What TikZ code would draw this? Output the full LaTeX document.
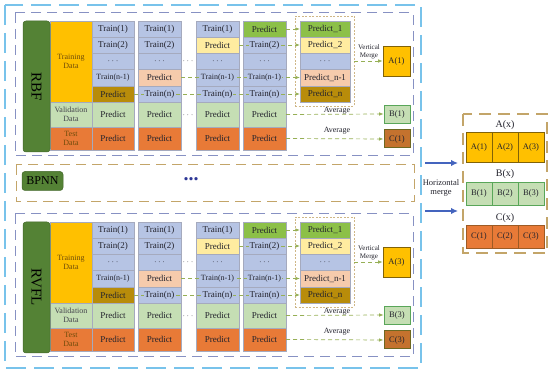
\documentclass[tikz,border=0pt]{standalone}
\usepackage{fontspec}
\setmainfont{Liberation Serif}
\usetikzlibrary{arrows.meta}
\pgfdeclarelayer{front}
\pgfsetlayers{main,front}

\definecolor{mgreen}{RGB}{84,130,53}
\definecolor{dyellow}{RGB}{255,192,0}
\definecolor{tblue}{RGB}{182,196,228}
\definecolor{olivep}{RGB}{184,140,10}
\definecolor{vgreen}{RGB}{197,222,180}
\definecolor{torange}{RGB}{232,122,55}
\definecolor{peach}{RGB}{246,203,172}
\definecolor{lyellow}{RGB}{255,236,160}
\definecolor{bgreen}{RGB}{140,192,72}
\definecolor{cbrown}{RGB}{196,114,46}
\definecolor{cellline}{RGB}{165,170,190}
\definecolor{panelblue}{RGB}{135,145,195}
\definecolor{outerblue}{RGB}{120,195,235}
\definecolor{tanline}{RGB}{195,165,105}
\definecolor{arrgreen}{RGB}{150,175,85}
\definecolor{arrblue}{RGB}{68,100,190}
\definecolor{dotblue}{RGB}{45,55,150}
\definecolor{txtdark}{RGB}{35,35,45}
\definecolor{txtbrown}{RGB}{110,75,10}

\tikzset{
 cellbox/.style={draw=cellline, line width=.5pt, inner sep=0pt, outer sep=0pt},
 celltxt/.style={inner sep=.8pt, text=txtdark, font=\fontsize{9}{10}\selectfont},
 modelbox/.style={fill=mgreen, draw=mgreen!80!black, rounded corners=3pt, inner sep=0pt, line width=.5pt, text=black},
 databox/.style={inner sep=0pt, outer sep=0pt, align=center, font=\fontsize{8}{9}\selectfont, draw=cellline, line width=.4pt},
 flow/.style={draw=arrgreen, line width=.7pt, dash pattern=on 4pt off 3pt, -{Latex[length=4.5pt,width=3.5pt]}},
 panel/.style={draw=panelblue, line width=1pt, dash pattern=on 10pt off 6pt},
 outerbox/.style={draw=outerblue, line width=1.5pt, dash pattern=on 20pt off 8pt},
 bpbox/.style={draw=tanline, line width=1pt, dash pattern=on 10pt off 6pt},
 rbox/.style={draw=tanline, line width=1.2pt, dash pattern=on 12pt off 7pt},
 mergebox/.style={draw=tanline!80, line width=.6pt, dash pattern=on 2pt off 1.5pt, inner sep=0pt},
 lbl/.style={text=txtdark, align=center, inner sep=0pt},
 dotsn/.style={text=txtdark!80, font=\fontsize{9}{9}\selectfont, inner sep=0pt},
 resbox/.style={inner sep=0pt, text=txtdark, font=\fontsize{8.5}{9}\selectfont, line width=.6pt},
 bigarrow/.style={draw=arrblue, line width=1.6pt, -{Latex[length=7pt,width=6.5pt]}},
}

\newcommand\cellnode[7]{%
 \node[cellbox, fill=#6, minimum width={(#4)-(#2)}, minimum height={(#5)-(#3)}] (#1) at ({((#2)+(#4))/2},{((#3)+(#5))/2}) {};
 \begin{pgfonlayer}{front}\node[celltxt, fill=#6] (#1t) at (#1) {#7};\end{pgfonlayer}%
}

\newcommand\drawpanel[3]{%
 \draw[panel] (15,13) rectangle (413,156);
 \node[databox, fill=dyellow, text=txtbrown, minimum width=42, minimum height=81] (#1td) at (71,61.5) {Training\\Data};
 \node[databox, fill=vgreen, text=txtdark!85, minimum width=42, minimum height=25] (#1vd) at (71,114.5) {Validation\\Data};
 \node[databox, fill=torange, text=txtbrown, minimum width=42, minimum height=23] (#1sd) at (71,138.5) {Test\\Data};
 \node[modelbox, rotate=-90, minimum width=131, minimum height=27, font=\fontsize{15}{15}\selectfont] (#1lab) at (36.5,86.5) {#2};
 % column 1
 \cellnode{#1c1r1}{92}{21}{134}{37}{tblue}{Train(1)}
 \cellnode{#1c1r2}{92}{37}{134}{53}{tblue}{Train(2)}
 \cellnode{#1c1r3}{92}{53}{134}{69}{tblue}{$\cdots$}
 \cellnode{#1c1r4}{92}{69}{134}{86}{tblue}{{\fontsize{8}{8}\selectfont Train(n-1)}}
 \cellnode{#1c1r5}{92}{86}{134}{102}{olivep}{Predict}
 \cellnode{#1c1v}{92}{102}{134}{127}{vgreen}{Predict}
 \cellnode{#1c1t}{92}{127}{134}{150}{torange}{Predict}
 % column 2
 \cellnode{#1c2r1}{138}{21}{181}{37}{tblue}{Train(1)}
 \cellnode{#1c2r2}{138}{37}{181}{53}{tblue}{Train(2)}
 \cellnode{#1c2r3}{138}{53}{181}{69}{tblue}{$\cdots$}
 \cellnode{#1c2r4}{138}{69}{181}{86}{peach}{Predict}
 \cellnode{#1c2r5}{138}{86}{181}{102}{tblue}{Train(n)}
 \cellnode{#1c2v}{138}{102}{181}{127}{vgreen}{Predict}
 \cellnode{#1c2t}{138}{127}{181}{150}{torange}{Predict}
 % column 3
 \cellnode{#1c3r1}{196}{21}{239}{37}{tblue}{Train(1)}
 \cellnode{#1c3r2}{196}{37}{239}{53}{lyellow}{Predict}
 \cellnode{#1c3r3}{196}{53}{239}{69}{tblue}{$\cdots$}
 \cellnode{#1c3r4}{196}{69}{239}{86}{tblue}{{\fontsize{8}{8}\selectfont Train(n-1)}}
 \cellnode{#1c3r5}{196}{86}{239}{102}{tblue}{Train(n)}
 \cellnode{#1c3v}{196}{102}{239}{127}{vgreen}{Predict}
 \cellnode{#1c3t}{196}{127}{239}{150}{torange}{Predict}
 % column 4
 \cellnode{#1c4r1}{243}{21}{286}{37}{bgreen}{Predict}
 \cellnode{#1c4r2}{243}{37}{286}{53}{tblue}{Train(2)}
 \cellnode{#1c4r3}{243}{53}{286}{69}{tblue}{$\cdots$}
 \cellnode{#1c4r4}{243}{69}{286}{86}{tblue}{{\fontsize{8}{8}\selectfont Train(n-1)}}
 \cellnode{#1c4r5}{243}{86}{286}{102}{tblue}{Train(n)}
 \cellnode{#1c4v}{243}{102}{286}{127}{vgreen}{Predict}
 \cellnode{#1c4t}{243}{127}{286}{150}{torange}{Predict}
 % dots
 \node[dotsn] (#1d1) at (188,61) {$\cdots$};
 \node[dotsn] (#1d2) at (188,115) {$\cdots$};
 % merge box
 \node[mergebox, minimum width=59, minimum height=90] (#1mb) at (324.5,61) {};
 \cellnode{#1m1}{300}{21}{350}{37}{bgreen}{Predict\_1}
 \cellnode{#1m2}{300}{37}{350}{53}{lyellow}{Predict\_2}
 \cellnode{#1m3}{300}{53}{350}{69}{tblue}{$\cdots$}
 \cellnode{#1m4}{300}{69}{350}{86}{peach}{Predict\_n-1}
 \cellnode{#1m5}{300}{86}{350}{102}{olivep}{Predict\_n}
 % results
 \node[resbox, fill=dyellow, draw=olivep!70!black, minimum width=27, minimum height=30] (#1A) at (396.5,61) {A(#3)};
 \node[resbox, fill=vgreen, draw=gray!70!green, minimum width=26, minimum height=18] (#1B) at (397,114) {B(#3)};
 \node[resbox, fill=cbrown, draw=olive!70!black, line width=1pt, minimum width=26, minimum height=18] (#1C) at (397,139) {C(#3)};
 % labels
 \node[lbl, font=\fontsize{7}{7.5}\selectfont] (#1vm) at (369,52) {Vertical\\Merge};
 \node[lbl, font=\fontsize{8}{8}\selectfont] (#1avg1) at (337,111) {Average};
 \node[lbl, font=\fontsize{8}{8}\selectfont] (#1avg2) at (337,131) {Average};
 % connectors
 \draw[flow] (#1c4r1.east) -- (#1m1.west);
 \draw[flow] (#1c3r2.east) -- (#1m2.west);
 \draw[flow] (#1c2r4.east) -- (#1m4.west);
 \draw[flow] (#1c1r5.east) -- (#1m5.west);
 \draw[flow] (#1mb.east) -- (#1A.west);
 \draw[flow] (#1c4v.east) -- (#1B.west);
 \draw[flow] (#1c4t.east) -- (#1C.west);
}

\begin{document}
\begin{tikzpicture}[x=1pt,y=-1pt]
\useasboundingbox (0,0) rectangle (550,374);
\draw[outerbox] (5,5) rectangle (421,368);

\drawpanel{p1}{RBF}{1}

\draw[bpbox] (16,165) rectangle (414,202);
\node[modelbox, minimum width=41, minimum height=19, font=\fontsize{12}{12}\selectfont] (bpnn) at (42.5,181) {BPNN};
\node[text=dotblue, font=\fontsize{20}{20}\selectfont\bfseries, inner sep=0pt] (bdots) at (191,179) {...};

\begin{scope}[yshift=-201pt]
\drawpanel{p3}{RVFL}{3}
\end{scope}

% right result box
\draw[rbox] (463,114) rectangle (547,253);
\node[lbl, font=\fontsize{10}{10}\selectfont] (Ax) at (505,125) {A(x)};
\node[resbox, fill=dyellow, draw=olivep!70!black, minimum width=26, minimum height=30] (xa1) at (479,147) {A(1)};
\node[resbox, fill=dyellow, draw=olivep!70!black, minimum width=26, minimum height=30] (xa2) at (505,147) {A(2)};
\node[resbox, fill=dyellow, draw=olivep!70!black, minimum width=26, minimum height=30] (xa3) at (531,147) {A(3)};
\node[lbl, font=\fontsize{10}{10}\selectfont] (Bx) at (505,174) {B(x)};
\node[resbox, fill=vgreen, draw=gray!70!green, minimum width=26, minimum height=23] (xb1) at (479,193.5) {B(1)};
\node[resbox, fill=vgreen, draw=gray!70!green, minimum width=26, minimum height=23] (xb2) at (505,193.5) {B(2)};
\node[resbox, fill=vgreen, draw=gray!70!green, minimum width=26, minimum height=23] (xb3) at (531,193.5) {B(3)};
\node[lbl, font=\fontsize{10}{10}\selectfont] (Cx) at (505,218) {C(x)};
\node[resbox, fill=torange, draw=cbrown!80!black, minimum width=26, minimum height=23] (xc1) at (479,236.5) {C(1)};
\node[resbox, fill=torange, draw=cbrown!80!black, minimum width=26, minimum height=23] (xc2) at (505,236.5) {C(2)};
\node[resbox, fill=torange, draw=cbrown!80!black, minimum width=26, minimum height=23] (xc3) at (531,236.5) {C(3)};

% horizontal merge arrows
\coordinate (h1s) at (425,163);
\coordinate (h1e) at (458,163);
\coordinate (h2s) at (425,211);
\coordinate (h2e) at (458,211);
\draw[bigarrow] (h1s) -- (h1e);
\draw[bigarrow] (h2s) -- (h2e);
\node[lbl, font=\fontsize{8.5}{9}\selectfont] (hm) at (441,188) {Horizontal\\merge};
\end{tikzpicture}
\end{document}
